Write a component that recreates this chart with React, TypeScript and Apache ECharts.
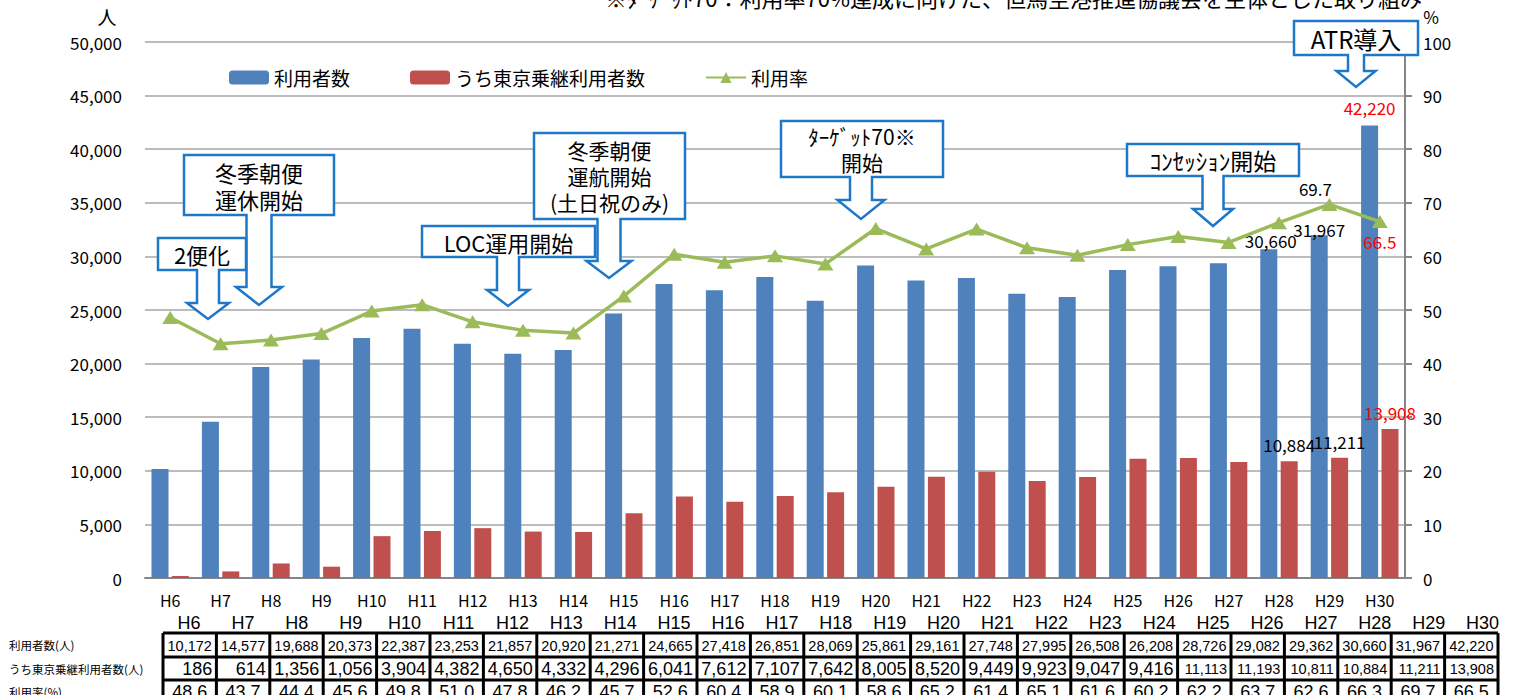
import React, { useEffect, useRef } from "react";
import * as echarts from "echarts";

const years = ["H6","H7","H8","H9","H10","H11","H12","H13","H14","H15","H16","H17","H18","H19","H20","H21","H22","H23","H24","H25","H26","H27","H28","H29","H30"];
const users = [10172,14577,19688,20373,22387,23253,21857,20920,21271,24665,27418,26851,28069,25861,29161,27748,27995,26508,26208,28726,29082,29362,30660,31967,42220];
const transfer = [186,614,1356,1056,3904,4382,4650,4332,4296,6041,7612,7107,7642,8005,8520,9449,9923,9047,9416,11113,11193,10811,10884,11211,13908];
const rate = [48.6,43.7,44.4,45.6,49.8,51.0,47.8,46.2,45.7,52.6,60.4,58.9,60.1,58.6,65.2,61.4,65.1,61.6,60.2,62.2,63.7,62.6,66.3,69.7,66.5];
const seriesNames = ["利用者数", "うち東京乗継利用者数", "利用率"];
const rowLabels = ["利用者数(人)", "うち東京乗継利用者数(人)", "利用率(%)"];
const leftTicks = { min: 0, max: 50000, interval: 5000 };
const rightTicks = { min: 0, max: 100, interval: 10 };
const titleNote = "※ﾀｰｹﾞｯﾄ70：利用率70%達成に向けた、但馬空港推進協議会を主体とした取り組み";
// callout annotations: text + layout
const callouts = [
  { text: "冬季朝便\n運休開始", x1: 184, x2: 334, y1: 155, y2: 215, cx: 259, shw: 12.5, ys: 287, hhw: 23, yt: 305, fs: 22, lh: 27 },
  { text: "2便化", x1: 158, x2: 246, y1: 238, y2: 270, cx: 208, shw: 11, ys: 303, hhw: 21, yt: 319, fs: 22, lh: 26 },
  { text: "LOC運用開始", x1: 422, x2: 595, y1: 226, y2: 257, cx: 508, shw: 11, ys: 290, hhw: 21, yt: 306, fs: 22, lh: 26 },
  { text: "冬季朝便\n運航開始\n(土日祝のみ)", x1: 534, x2: 685, y1: 133, y2: 219, cx: 609, shw: 11.5, ys: 261, hhw: 22.5, yt: 278, fs: 21, lh: 26 },
  { text: "ﾀｰｹﾞｯﾄ70※\n開始", x1: 781, x2: 943, y1: 121, y2: 177, cx: 861, shw: 11, ys: 200, hhw: 23.5, yt: 219, fs: 21, lh: 25.5 },
  { text: "ｺﾝｾｯｼｮﾝ開始", x1: 1127, x2: 1299, y1: 144, y2: 176, cx: 1213, shw: 10.5, ys: 209, hhw: 20, yt: 226, fs: 23, lh: 26 },
  { text: "ATR導入", x1: 1294, x2: 1418, y1: 21, y2: 55, cx: 1356, shw: 8, ys: 71, hhw: 19.5, yt: 87, fs: 24, lh: 26 },
];

const FONT = "'Noto Sans CJK JP', 'Noto Sans', sans-serif";
const TFONT = "'Liberation Sans', Arial, sans-serif";
const BLUE = "#4F81BD";
const RED = "#C0504D";
const GREEN = "#9BBB59";
const OUTLINE = "#1F77C9";

const fmt = (v: number) => v.toLocaleString("en-US");

function buildGraphics() {
  const g: any[] = [];
  // cut-off title note
  g.push({ type: "text", x: 605, y: -3, z: 100, style: { text: titleNote, fontSize: 22, fontFamily: FONT, fill: "#000", align: "left", verticalAlign: "middle" } });
  g.push({ type: "text", x: 107, y: 16, z: 100, style: { text: "人", fontSize: 19, fontFamily: FONT, fill: "#000", align: "center", verticalAlign: "middle" } });
  g.push({ type: "text", x: 1431, y: 16, z: 100, style: { text: "%", fontSize: 17, fontFamily: FONT, fill: "#000", align: "center", verticalAlign: "middle" } });
  callouts.forEach((c, i) => {
    const pts = [
      [c.x1, c.y1], [c.x2, c.y1], [c.x2, c.y2], [c.cx + c.shw, c.y2], [c.cx + c.shw, c.ys],
      [c.cx + c.hhw, c.ys], [c.cx, c.yt], [c.cx - c.hhw, c.ys], [c.cx - c.shw, c.ys],
      [c.cx - c.shw, c.y2], [c.x1, c.y2],
    ];
    g.push({ type: "polygon", z: 100 + i * 2, shape: { points: pts }, style: { fill: "#fff", stroke: OUTLINE, lineWidth: 2.5 } });
    const lines = c.text.split("\n");
    const mid = (c.y1 + c.y2) / 2;
    lines.forEach((ln, k) => {
      g.push({ type: "text", z: 101 + i * 2, x: (c.x1 + c.x2) / 2, y: mid + (k - (lines.length - 1) / 2) * c.lh, style: { text: ln, fontSize: c.fs, fontFamily: FONT, fill: "#000", align: "center", verticalAlign: "middle" } });
    });
  });
  // data table
  const colL = 163, colW = 53.4, n = years.length;
  const rowY = [633, 657, 680, 703];
  years.forEach((y, i) => {
    g.push({ type: "text", x: 189 + 53.9 * i, y: 623, style: { text: y, fontSize: 18, fontFamily: TFONT, fill: "#000", align: "center", verticalAlign: "middle" } });
  });
  rowLabels.forEach((t, r) => {
    g.push({ type: "text", x: 9, y: (rowY[r] + rowY[r + 1]) / 2, style: { text: t, fontSize: 11.5, fontFamily: FONT, fill: "#000", align: "left", verticalAlign: "middle" } });
  });
  for (let i = 0; i < n; i++) {
    const cxm = colL + colW * (i + 0.5);
    g.push({ type: "text", x: cxm, y: 646, style: { text: fmt(users[i]), fontSize: 14.5, fontFamily: TFONT, fill: "#000", align: "center", verticalAlign: "middle" } });
    const big = transfer[i] < 10000;
    g.push({ type: "text", x: colL + colW * (i + 1) - 4, y: 669, style: { text: fmt(transfer[i]), fontSize: big ? 18 : 14.5, fontFamily: TFONT, fill: "#000", align: "right", verticalAlign: "middle" } });
    g.push({ type: "text", x: cxm, y: 692, style: { text: rate[i].toFixed(1), fontSize: 18, fontFamily: TFONT, fill: "#000", align: "center", verticalAlign: "middle" } });
  }
  for (let j = 0; j <= n; j++) {
    const x = colL + colW * j;
    g.push({ type: "line", shape: { x1: x, y1: rowY[0], x2: x, y2: rowY[3] }, style: { stroke: "#000", lineWidth: 3 } });
  }
  for (let r = 0; r < 3; r++) {
    g.push({ type: "line", shape: { x1: colL, y1: rowY[r], x2: colL + colW * n, y2: rowY[r] }, style: { stroke: "#000", lineWidth: 3 } });
  }
  return g;
}

export default function App() {
  const ref = useRef<HTMLDivElement>(null);
  useEffect(() => {
    document.body.style.margin = "0";
    if (!ref.current) return;
    const chart = echarts.init(ref.current, null, { renderer: "svg" });
    const blueData = users.map((v, i) => {
      if (i < 22) return v;
      const red = i === 24;
      return { value: v, label: { show: true, position: "top", distance: i === 23 ? -3 : i === 22 ? 0 : 9, offset: i === 22 ? [2, 0] : [0, 0], color: red ? "#FF0000" : "#000", fontSize: 17, fontFamily: FONT, formatter: (p: any) => fmt(p.value) } };
    });
    const redData = transfer.map((v, i) => {
      if (i < 22) return v;
      const red = i === 24;
      return { value: v, label: { show: true, position: "top", distance: 8, color: red ? "#FF0000" : "#000", fontSize: 17, fontFamily: FONT, formatter: (p: any) => fmt(p.value) } };
    });
    const rateData = rate.map((v, i) => {
      if (i === 23) return { value: v, label: { show: true, position: "top", distance: 1, offset: [-14, 0], color: "#000", fontSize: 17, fontFamily: FONT, formatter: (p: any) => p.value.toFixed(1) } };
      if (i === 24) return { value: v, label: { show: true, position: "bottom", distance: 5, color: "#FF0000", fontSize: 17, fontFamily: FONT, formatter: (p: any) => p.value.toFixed(1) } };
      return v;
    });
    const option: any = {
      animation: false,
      textStyle: { fontFamily: FONT },
      grid: { left: 145, right: 112, top: 42, bottom: 117, containLabel: false },
      legend: {
        left: 229, top: 68, padding: 0, itemWidth: 40, itemHeight: 14, itemGap: 60,
        textStyle: { fontSize: 19, color: "#000", fontFamily: FONT },
        data: seriesNames,
      },
      xAxis: {
        type: "category", data: years,
        axisTick: { show: false },
        axisLine: { lineStyle: { color: "#868686", width: 2 } },
        axisLabel: { color: "#000", fontSize: 16, margin: 14, fontFamily: FONT },
      },
      yAxis: [
        {
          type: "value", ...leftTicks,
          axisLabel: { formatter: (v: number) => fmt(v), fontSize: 17, color: "#000", margin: 23, fontFamily: FONT },
          splitLine: { lineStyle: { color: "#A6A6A6", width: 1.5 } },
          axisLine: { show: false }, axisTick: { show: false },
        },
        {
          type: "value", position: "right", ...rightTicks,
          axisLabel: { fontSize: 17, color: "#000", margin: 18, fontFamily: FONT },
          splitLine: { show: false },
          axisLine: { show: true, lineStyle: { color: "#868686", width: 2 } },
          axisTick: { show: true, length: 7, lineStyle: { color: "#868686", width: 2 } },
        },
      ],
      series: [
        { name: seriesNames[0], type: "bar", data: blueData, barWidth: 17, barGap: "20%", itemStyle: { color: BLUE }, z: 2 },
        { name: seriesNames[1], type: "bar", data: redData, barWidth: 17, barGap: "20%", itemStyle: { color: RED }, z: 2 },
        {
          name: seriesNames[2], type: "line", yAxisIndex: 1, data: rateData,
          symbol: "triangle", symbolSize: [16, 13], lineStyle: { color: GREEN, width: 3.5 },
          itemStyle: { color: GREEN }, z: 5,
        },
      ],
      graphic: buildGraphics(),
    };
    chart.setOption(option);
    return () => chart.dispose();
  }, []);
  return <div ref={ref} style={{ width: 1517, height: 695 }} />;
}
